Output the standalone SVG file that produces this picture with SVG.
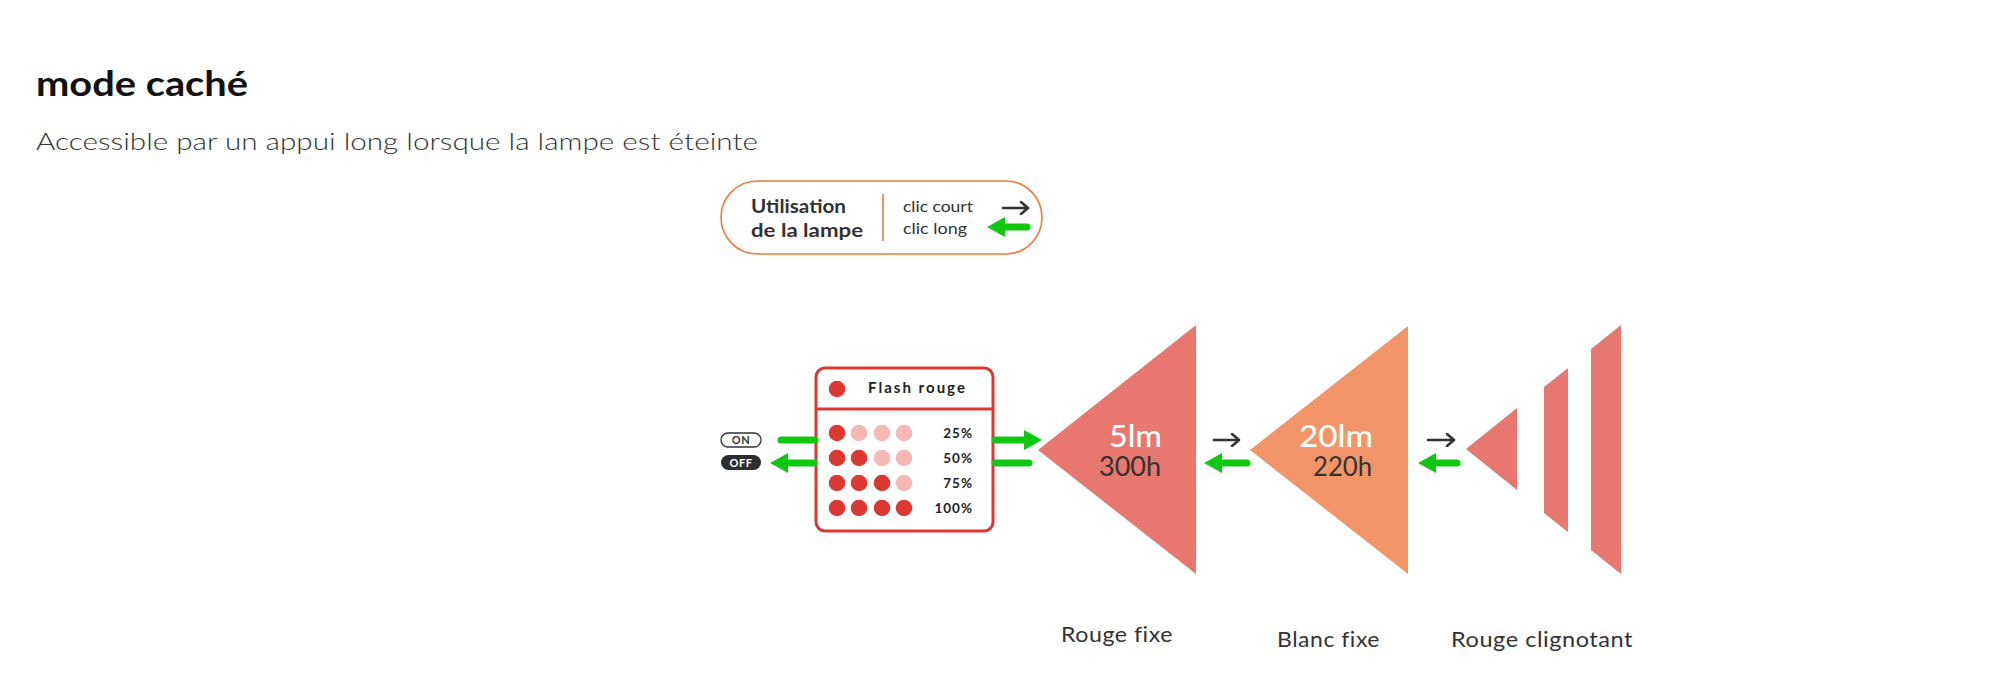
<svg xmlns="http://www.w3.org/2000/svg" width="2000" height="695" viewBox="0 0 2000 695">
<defs>
<style>
text{font-family:Lato,"Noto Sans",sans-serif;}
.dark{fill:#333333;}
.g{stroke:#12c712;stroke-width:7;stroke-linecap:round;fill:none;}
.k{stroke:#333333;stroke-width:2.6;stroke-linecap:round;fill:none;}
.dotD{fill:#dc3832;}
.dotL{fill:#f5b8b4;}
.pct{font-size:13.5px;font-weight:700;fill:#222;text-anchor:end;letter-spacing:1px;}
.lbl{font-size:22px;fill:#333;letter-spacing:0.5px;}
.red{fill:#e87770;}
</style>
<marker id="gh" viewBox="0 0 18 20" refX="0" refY="10" markerWidth="18" markerHeight="20" markerUnits="userSpaceOnUse" orient="auto">
<path d="M0,0 L18,10 L0,20 Z" fill="#12c712"/>
</marker>
<marker id="kh" viewBox="0 0 10 14" refX="9" refY="7" markerWidth="10" markerHeight="14" markerUnits="userSpaceOnUse" orient="auto">
<path d="M2,1 L9,7 L2,13" fill="none" stroke="#333333" stroke-width="2.6" stroke-linecap="round" stroke-linejoin="round"/>
</marker>
</defs>
<rect width="2000" height="695" fill="#ffffff"/>

<g id="title">
<text x="36" y="96" font-size="34" font-weight="700" fill="#111" textLength="212" lengthAdjust="spacingAndGlyphs">mode caché</text>
<text x="36" y="150" font-size="24" font-weight="300" fill="#333" textLength="722" lengthAdjust="spacingAndGlyphs">Accessible par un appui long lorsque la lampe est éteinte</text>
</g>

<g id="legend">
<rect x="721" y="181" width="321" height="73" rx="36.5" fill="#fff" stroke="#f07a3a" stroke-width="1.6"/>
<line x1="883" y1="194" x2="883" y2="241" stroke="#f07a3a" stroke-width="1.6"/>
<text x="751" y="213" font-size="18" font-weight="700" class="dark" textLength="95" lengthAdjust="spacingAndGlyphs">Utilisation</text>
<text x="751" y="237" font-size="18" font-weight="700" class="dark" textLength="112" lengthAdjust="spacingAndGlyphs">de la lampe</text>
<text x="903" y="212" font-size="16" class="dark" textLength="70" lengthAdjust="spacingAndGlyphs">clic court</text>
<text x="903" y="234" font-size="16" class="dark" textLength="64" lengthAdjust="spacingAndGlyphs">clic long</text>
<line class="k" x1="1003" y1="208" x2="1028" y2="208" marker-end="url(#kh)"/>
<line class="g" x1="1027" y1="227" x2="1005" y2="227" marker-end="url(#gh)"/>
</g>

<g id="onoff">
<rect x="721" y="433" width="40" height="14" rx="7" fill="#fff" stroke="#333" stroke-width="1.3"/>
<text x="741" y="444.3" font-size="11" font-weight="700" fill="#333" text-anchor="middle" letter-spacing="0.5">ON</text>
<rect x="721" y="455" width="40" height="15" rx="7.5" fill="#2d2d2d"/>
<text x="741" y="466.8" font-size="11" font-weight="700" fill="#fff" text-anchor="middle" letter-spacing="0.5">OFF</text>
</g>

<g id="flash-rouge">
<rect x="816" y="368" width="177" height="163" rx="9" fill="#fff" stroke="#dc3832" stroke-width="3"/>
<line x1="816" y1="409" x2="993" y2="409" stroke="#dc3832" stroke-width="3"/>
<circle cx="837" cy="389" r="8.3" class="dotD"/>
<text x="868" y="393" font-size="15" font-weight="700" fill="#222" letter-spacing="2" textLength="99" lengthAdjust="spacingAndGlyphs">Flash rouge</text>
<circle cx="837" cy="433" r="8.3" class="dotD"/>
<circle cx="859" cy="433" r="8.3" class="dotL"/>
<circle cx="882" cy="433" r="8.3" class="dotL"/>
<circle cx="904" cy="433" r="8.3" class="dotL"/>
<circle cx="837" cy="458" r="8.3" class="dotD"/>
<circle cx="859" cy="458" r="8.3" class="dotD"/>
<circle cx="882" cy="458" r="8.3" class="dotL"/>
<circle cx="904" cy="458" r="8.3" class="dotL"/>
<circle cx="837" cy="483" r="8.3" class="dotD"/>
<circle cx="859" cy="483" r="8.3" class="dotD"/>
<circle cx="882" cy="483" r="8.3" class="dotD"/>
<circle cx="904" cy="483" r="8.3" class="dotL"/>
<circle cx="837" cy="508" r="8.3" class="dotD"/>
<circle cx="859" cy="508" r="8.3" class="dotD"/>
<circle cx="882" cy="508" r="8.3" class="dotD"/>
<circle cx="904" cy="508" r="8.3" class="dotD"/>
<text x="973" y="438" class="pct">25%</text>
<text x="973" y="463" class="pct">50%</text>
<text x="973" y="488" class="pct">75%</text>
<text x="973" y="513" class="pct">100%</text>
</g>

<g id="rouge-fixe">
<polygon points="1038,450 1196,325 1196,574" class="red"/>
<text x="1109" y="447" font-size="30" font-weight="500" fill="#fff" textLength="53" lengthAdjust="spacingAndGlyphs">5lm</text>
<text x="1099" y="476" font-size="26" class="dark" textLength="62" lengthAdjust="spacingAndGlyphs">300h</text>
<text x="1061" y="642" class="lbl" textLength="112" lengthAdjust="spacingAndGlyphs">Rouge fixe</text>
</g>

<g id="blanc-fixe">
<polygon points="1250,450 1408,326 1408,574" fill="#f39568"/>
<text x="1299" y="447" font-size="30" font-weight="500" fill="#fff" textLength="74" lengthAdjust="spacingAndGlyphs">20lm</text>
<text x="1313" y="476" font-size="26" class="dark" textLength="59" lengthAdjust="spacingAndGlyphs">220h</text>
<text x="1277" y="647" class="lbl" textLength="103" lengthAdjust="spacingAndGlyphs">Blanc fixe</text>
</g>

<g id="rouge-clignotant">
<polygon points="1466,449 1517,408 1517,490" class="red"/>
<polygon points="1544,387 1568,368 1568,532 1544,513" class="red"/>
<polygon points="1591,349 1621,325 1621,574 1591,550" class="red"/>
<text x="1451" y="647" class="lbl" textLength="182" lengthAdjust="spacingAndGlyphs">Rouge clignotant</text>
</g>

<g id="connectors">
<line class="g" x1="781" y1="440" x2="815" y2="440"/>
<line class="g" x1="814" y1="463" x2="788" y2="463" marker-end="url(#gh)"/>
<line class="g" x1="995" y1="440" x2="1024" y2="440" marker-end="url(#gh)"/>
<line class="g" x1="995" y1="463" x2="1029" y2="463"/>
<line class="k" x1="1214" y1="440" x2="1239" y2="440" marker-end="url(#kh)"/>
<line class="g" x1="1247" y1="463" x2="1222" y2="463" marker-end="url(#gh)"/>
<line class="k" x1="1428" y1="440" x2="1454" y2="440" marker-end="url(#kh)"/>
<line class="g" x1="1457" y1="463" x2="1436" y2="463" marker-end="url(#gh)"/>
</g>
</svg>
